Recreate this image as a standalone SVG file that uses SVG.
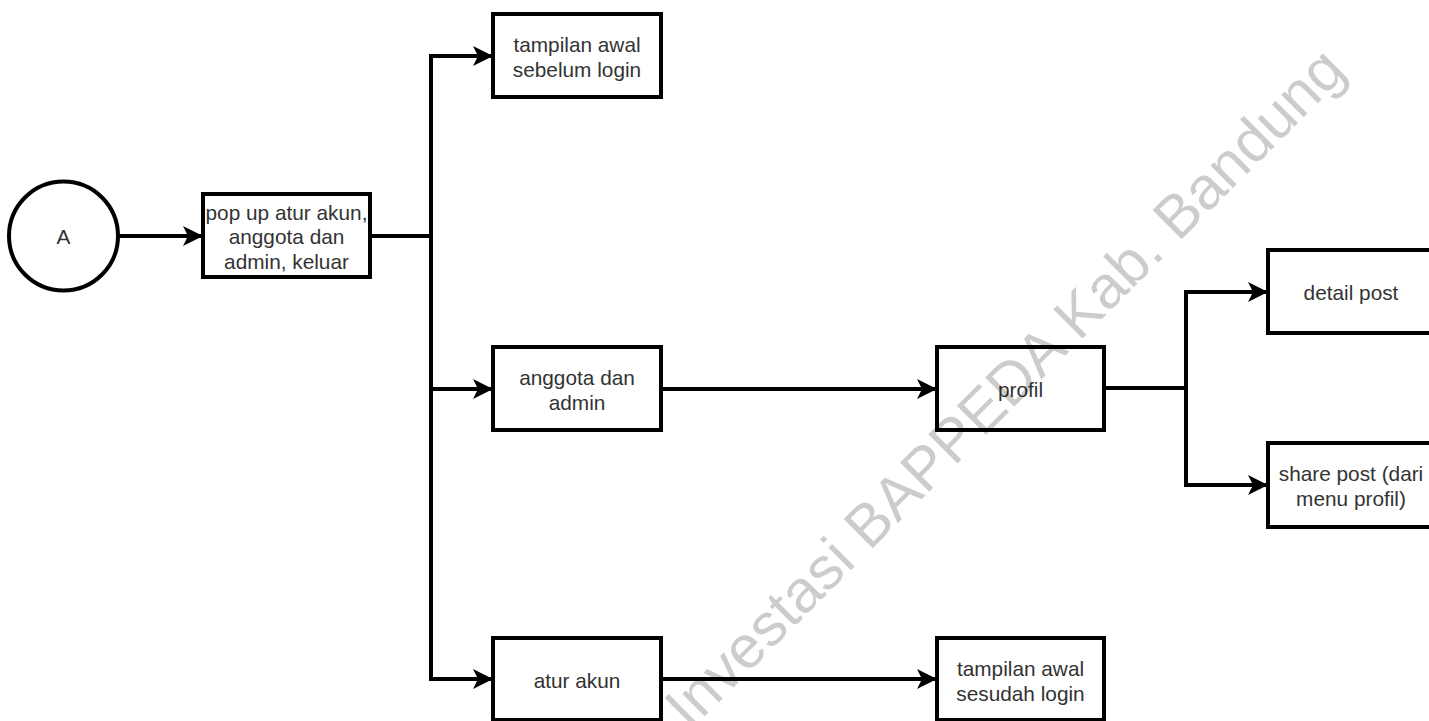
<svg xmlns="http://www.w3.org/2000/svg" width="1429" height="721" viewBox="0 0 1429 721">
<defs>
<marker id="arrow" markerUnits="userSpaceOnUse" markerWidth="22" markerHeight="22" refX="20" refY="11" orient="auto"><path d="M0 1 L20 11 L0 21 L5 11 Z" fill="#000"/></marker>
</defs>
<style>
.n{fill:#fff;stroke:#000;stroke-width:4}
.c{fill:none;stroke:#000;stroke-width:4}
.t{font-family:"Liberation Sans",Arial,sans-serif;font-size:20.8px;fill:#333;text-anchor:middle}
.w{font-family:"Liberation Sans",Arial,sans-serif;font-size:60px;fill:#000;fill-opacity:.2}
</style>
<rect width="1429" height="721" fill="#fff"/>
<g id="connectors">
<path class="c" marker-end="url(#arrow)" d="M118 236H203"/>
<path class="c" d="M370 236H431"/>
<path class="c" marker-end="url(#arrow)" d="M431 236V56H493"/>
<path class="c" marker-end="url(#arrow)" d="M431 236V389H493"/>
<path class="c" marker-end="url(#arrow)" d="M431 236V679H493"/>
<path class="c" marker-end="url(#arrow)" d="M661 389H937"/>
<path class="c" marker-end="url(#arrow)" d="M661 679H937"/>
<path class="c" d="M1104 388H1186"/>
<path class="c" marker-end="url(#arrow)" d="M1186 388V292H1268"/>
<path class="c" marker-end="url(#arrow)" d="M1186 388V485H1268"/>
</g>
<g id="node-a"><circle class="n" cx="63.500" cy="236" r="54.500" style="fill:none"/><text class="t" x="63.500" y="244">A</text></g>
<g id="node-popup"><rect class="n" x="203" y="194" width="167" height="83"/><text class="t" x="286.500" y="220">pop up atur akun,</text><text class="t" x="286.500" y="244">anggota dan</text><text class="t" x="286.500" y="269">admin, keluar</text></g>
<g id="node-awal-sebelum"><rect class="n" x="493" y="14" width="168" height="83"/><text class="t" x="577" y="52">tampilan awal</text><text class="t" x="577" y="77">sebelum login</text></g>
<g id="node-anggota"><rect class="n" x="493" y="347" width="168" height="83"/><text class="t" x="577" y="385">anggota dan</text><text class="t" x="577" y="410">admin</text></g>
<g id="node-atur"><rect class="n" x="493" y="638" width="168" height="82"/><text class="t" x="577" y="688">atur akun</text></g>
<g id="node-profil"><rect class="n" x="937" y="347" width="167" height="83"/><text class="t" x="1020.500" y="397">profil</text></g>
<g id="node-awal-sesudah"><rect class="n" x="937" y="638" width="167" height="82"/><text class="t" x="1020.500" y="676">tampilan awal</text><text class="t" x="1020.500" y="701">sesudah login</text></g>
<g id="node-detail"><rect class="n" x="1268" y="250" width="170" height="83"/><text class="t" x="1351" y="300">detail post</text></g>
<g id="node-share"><rect class="n" x="1268" y="443" width="170" height="84"/><text class="t" x="1351" y="481">share post (dari</text><text class="t" x="1351" y="506">menu profil)</text></g>
<text class="w" transform="translate(690 731) rotate(-45)">Investasi BAPPEDA Kab. Bandung</text>
</svg>
